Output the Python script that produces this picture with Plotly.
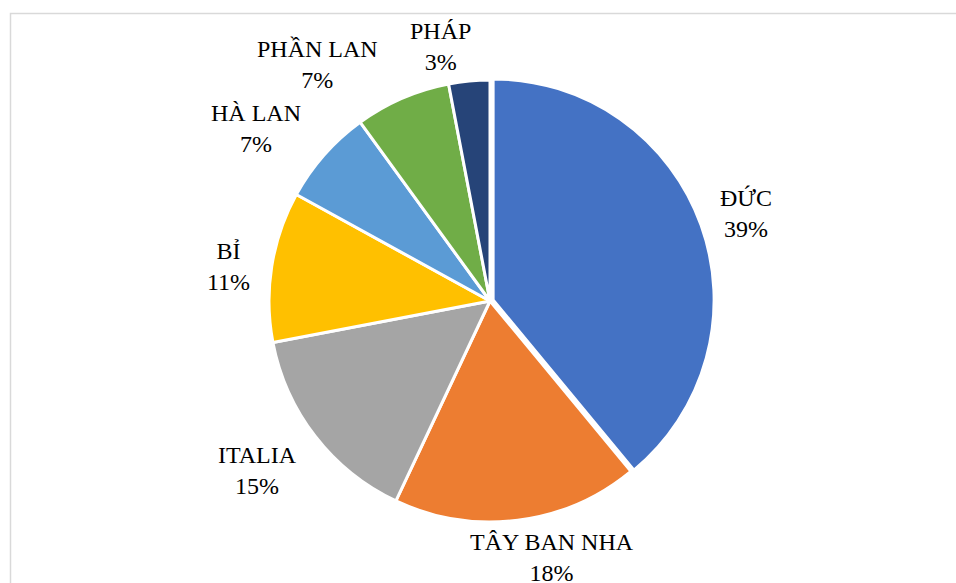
import plotly.graph_objects as go

# Share of each country (percent)
countries = ["ĐỨC", "TÂY BAN NHA", "ITALIA", "BỈ", "HÀ LAN", "PHẦN LAN", "PHÁP"]
shares = [39, 18, 15, 11, 7, 7, 3]
colors = ["#4472C4", "#ED7D31", "#A5A5A5", "#FFC000", "#5B9BD5", "#70AD47", "#264478"]
pulls = [0.015, 0, 0, 0, 0, 0, 0]

# Label anchor points in pixels (x from left, y from top)
label_pos = [(746, 214), (552, 557), (257, 470), (228, 266), (256, 128), (317, 64), (440, 46)]

W, H = 956, 583
FONT = "Liberation Serif"


def px_x(x):
    return x / W


def px_y(y):
    return 1 - y / H


# Pie geometry (pixels)
cx, cy, r = 490, 301, 221
half = r * (1 + max(pulls))

fig = go.Figure(
    go.Pie(
        labels=countries,
        values=shares,
        sort=False,
        direction="clockwise",
        rotation=0,
        pull=pulls,
        marker=dict(colors=colors, line=dict(color="white", width=3)),
        textinfo="none",
        hoverinfo="label+percent",
        domain=dict(
            x=[px_x(cx - half), px_x(cx + half)],
            y=[px_y(cy + half), px_y(cy - half)],
        ),
        showlegend=False,
    )
)

total = sum(shares)
annotations = []
for name, val, (lx, ly) in zip(countries, shares, label_pos):
    annotations.append(
        dict(
            x=px_x(lx),
            y=px_y(ly),
            xref="paper",
            yref="paper",
            text=f"{name}<br>{round(val / total * 100)}%",
            showarrow=False,
            xanchor="center",
            yanchor="middle",
            align="center",
            font=dict(family=FONT, size=24, color="#000000"),
        )
    )

fig.update_layout(
    width=W,
    height=H,
    margin=dict(l=0, r=0, t=0, b=0),
    paper_bgcolor="white",
    plot_bgcolor="white",
    font=dict(family=FONT),
    annotations=annotations,
    shapes=[
        dict(
            type="rect",
            xref="paper",
            yref="paper",
            x0=px_x(10.5),
            x1=px_x(W + 10),
            y0=px_y(H + 10),
            y1=px_y(13.5),
            line=dict(color="#D9D9D9", width=1.5),
            fillcolor="rgba(0,0,0,0)",
        )
    ],
)

fig.write_html("out.html")
